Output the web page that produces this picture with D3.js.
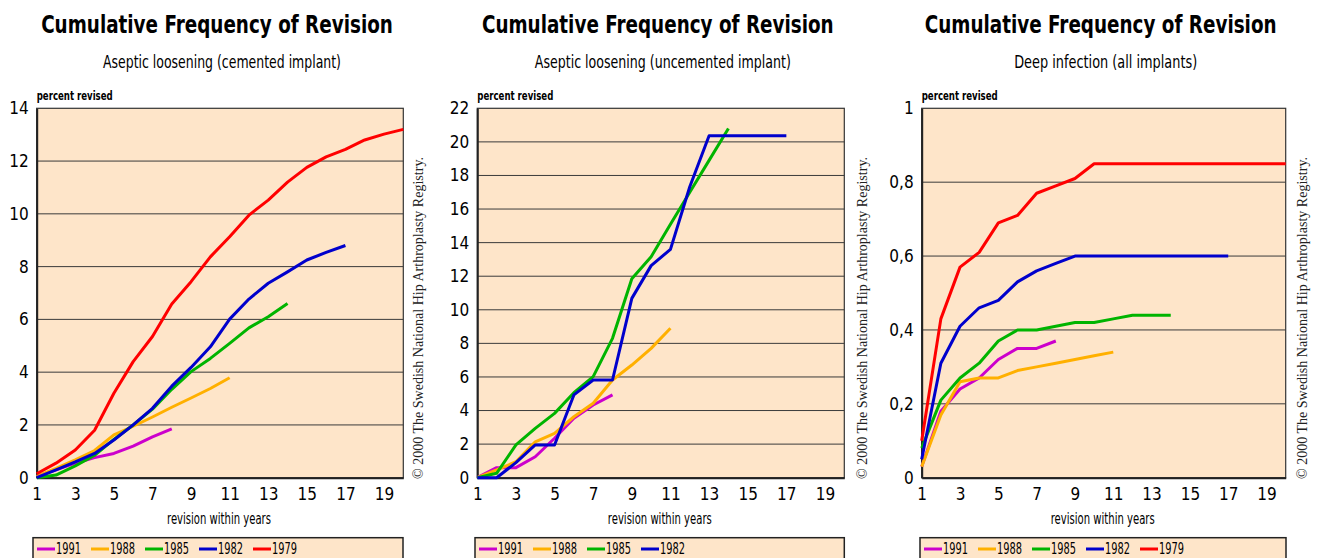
<!DOCTYPE html>
<html>
<head>
<meta charset="utf-8">
<script src="https://cdn.jsdelivr.net/npm/d3@7"></script>
<style>
  html, body { margin: 0; padding: 0; background: #ffffff; }
  svg { display: block; }
</style>
</head>
<body>
<svg id="chart" width="1322" height="558"></svg>
<script>
// ---------------- DATA ----------------
const years = [1, 2, 3, 4, 5, 6, 7, 8, 9, 10, 11, 12, 13, 14, 15, 16, 17, 18, 19, 20];
const xTickValues = [1, 3, 5, 7, 9, 11, 13, 15, 17, 19];
const seriesNames = ["1991", "1988", "1985", "1982", "1979"];

const chartTitle = "Cumulative Frequency of Revision";
const subtitles = ["Aseptic loosening (cemented implant)", "Aseptic loosening (uncemented implant)", "Deep infection (all implants)"];
const yAxisTitle = "percent revised";
const xAxisTitle = "revision within years";
const copyrightText = "\u00A9 2000 The Swedish National Hip Arthroplasty Registry.";

// Panel 1: aseptic loosening, cemented
const cemTicks = [0, 2, 4, 6, 8, 10, 12, 14];
const cem1991 = [0.05, 0.3, 0.55, 0.76, 0.92, 1.2, 1.55, 1.85];
const cem1988 = [0.05, 0.35, 0.68, 1.03, 1.62, 1.95, 2.3, 2.67, 3.02, 3.38, 3.79];
const cem1985 = [0, 0.1, 0.45, 0.85, 1.45, 2.0, 2.6, 3.35, 4.02, 4.52, 5.09, 5.68, 6.1, 6.6];
const cem1982 = [0, 0.3, 0.6, 0.92, 1.43, 2.0, 2.63, 3.47, 4.18, 4.96, 6.01, 6.77, 7.37, 7.8, 8.25, 8.54, 8.8];
const cem1979 = [0.15, 0.55, 1.05, 1.8, 3.2, 4.4, 5.35, 6.58, 7.43, 8.37, 9.13, 9.95, 10.52, 11.2, 11.76, 12.16, 12.44, 12.8, 13.02, 13.2];

// Panel 2: aseptic loosening, uncemented
const uncTicks = [0, 2, 4, 6, 8, 10, 12, 14, 16, 18, 20, 22];
const unc1991 = [0, 0.6, 0.6, 1.25, 2.35, 3.54, 4.33, 4.93];
const unc1988 = [0, 0.46, 0.95, 2.14, 2.64, 3.63, 4.43, 5.82, 6.71, 7.7, 8.9];
const unc1985 = [0, 0.26, 1.95, 2.94, 3.83, 5.06, 6.02, 8.3, 11.85, 13.16, 15.1, 17.0, 18.9, 20.8];
const unc1982 = [0, 0, 0.9, 1.95, 1.95, 4.93, 5.82, 5.82, 10.68, 12.63, 13.6, 17.33, 20.37, 20.37, 20.37, 20.37, 20.37];

// Panel 3: deep infection, all implants
const infTicks = [0, 0.2, 0.4, 0.6, 0.8, 1];
const infTickLabels = ["0", "0,2", "0,4", "0,6", "0,8", "1"];
const inf1991 = [0.03, 0.18, 0.24, 0.27, 0.32, 0.35, 0.35, 0.37];
const inf1988 = [0.03, 0.17, 0.26, 0.27, 0.27, 0.29, 0.30, 0.31, 0.32, 0.33, 0.34];
const inf1985 = [0.08, 0.21, 0.27, 0.31, 0.37, 0.40, 0.40, 0.41, 0.42, 0.42, 0.43, 0.44, 0.44, 0.44];
const inf1982 = [0.05, 0.31, 0.41, 0.46, 0.48, 0.53, 0.56, 0.58, 0.60, 0.60, 0.60, 0.60, 0.60, 0.60, 0.60, 0.60, 0.60];
const inf1979 = [0.10, 0.43, 0.57, 0.61, 0.69, 0.71, 0.77, 0.79, 0.81, 0.85, 0.85, 0.85, 0.85, 0.85, 0.85, 0.85, 0.85, 0.85, 0.85, 0.85];

// ---------------- STYLE ----------------
const colors = { "1991": "#cc00cc", "1988": "#ffb000", "1985": "#00b400", "1982": "#0000cc", "1979": "#ff0000" };
const bg = "#fee5c9";
const COND = '"Liberation Sans Narrow", "DejaVu Sans Condensed", "Roboto Condensed", sans-serif';
const SERIF = '"Liberation Serif", "DejaVu Serif", serif';

const panels = [
  { left: 36.7, right: 403.3, sub: subtitles[0], subW: 238, yMax: 14, ticks: cemTicks, labels: cemTicks.map(String),
    series: [["1991", cem1991], ["1988", cem1988], ["1985", cem1985], ["1982", cem1982], ["1979", cem1979]],
    copyX: 423, legL: 33, legR: 403 },
  { left: 477.3, right: 844.3, sub: subtitles[1], subW: 256, yMax: 22, ticks: uncTicks, labels: uncTicks.map(String),
    series: [["1991", unc1991], ["1988", unc1988], ["1985", unc1985], ["1982", unc1982]],
    copyX: 867, legL: 475, legR: 844.3 },
  { left: 921.7, right: 1285.7, sub: subtitles[2], subW: 183, yMax: 1, ticks: infTicks, labels: infTickLabels,
    series: [["1991", inf1991], ["1988", inf1988], ["1985", inf1985], ["1982", inf1982], ["1979", inf1979]],
    copyX: 1307, legL: 920, legR: 1286 }
];

const plotTop = 108.3, plotBottom = 477.7;
const titleW = 352, titleFs = 24;
const svg = d3.select("#chart");

panels.forEach((p) => {
  const g = svg.append("g");
  const x = d3.scaleLinear().domain([1, 20]).range([p.left, p.right]);
  const y = d3.scaleLinear().domain([0, p.yMax]).range([plotBottom, plotTop]);
  const cx = (p.left + p.right) / 2;

  // title: size chosen so its natural width is titleW, then stretched vertically
  const tg = g.append("g");
  const tt = tg.append("text").attr("x", 0).attr("y", 0).attr("text-anchor", "middle")
    .attr("font-family", COND).attr("font-weight", "bold").attr("font-size", titleFs)
    .attr("fill", "#000").text(chartTitle);
  const natural = tt.node().getComputedTextLength();
  const fs = titleFs * titleW / natural;
  tt.attr("font-size", fs);
  tg.attr("transform", `translate(${cx - 3},33) scale(1,${titleFs / fs})`);

  g.append("text").attr("x", cx + 2).attr("y", 68).attr("text-anchor", "middle")
    .attr("font-family", COND).attr("font-size", 17).attr("font-weight", 500)
    .attr("textLength", p.subW).attr("lengthAdjust", "spacingAndGlyphs").attr("fill", "#000")
    .text(p.sub);

  // plot background
  g.append("rect").attr("x", p.left).attr("y", plotTop).attr("width", p.right - p.left).attr("height", plotBottom - plotTop)
    .attr("fill", bg).attr("stroke", "#333").attr("stroke-width", 1.2);

  // grid lines
  g.append("g").selectAll("line").data(p.ticks.filter(t => t > 0 && t < p.yMax)).join("line")
    .attr("x1", p.left).attr("x2", p.right).attr("y1", d => y(d)).attr("y2", d => y(d))
    .attr("stroke", "#3a3a3a").attr("stroke-width", 1);

  // y axis
  const yAxis = d3.axisLeft(y).tickValues(p.ticks).tickSize(0).tickPadding(8)
    .tickFormat((d, i) => p.labels[i]);
  const ya = g.append("g").attr("transform", `translate(${p.left},0)`).call(yAxis);
  ya.select(".domain").attr("stroke", "#222").attr("stroke-width", 2);
  ya.selectAll("text").attr("font-family", COND).attr("font-size", 17).attr("fill", "#000");

  // x axis
  const xAxis = d3.axisBottom(x).tickValues(xTickValues).tickSize(0).tickPadding(10).tickFormat(d3.format("d"));
  const xa = g.append("g").attr("transform", `translate(0,${plotBottom})`).call(xAxis);
  xa.select(".domain").attr("stroke", "#222").attr("stroke-width", 2);
  xa.selectAll("text").attr("font-family", COND).attr("font-size", 17).attr("fill", "#000");

  // axis titles
  g.append("text").attr("x", p.left).attr("y", 100).attr("font-family", COND).attr("font-weight", "bold")
    .attr("font-size", 13).attr("textLength", 76).attr("lengthAdjust", "spacingAndGlyphs").text(yAxisTitle);
  g.append("text").attr("x", cx - 1).attr("y", 524).attr("text-anchor", "middle").attr("font-family", COND)
    .attr("font-size", 15).attr("textLength", 104).attr("lengthAdjust", "spacingAndGlyphs").text(xAxisTitle);

  // series lines
  const line = d3.line().x((d, i) => x(years[i])).y(d => y(d));
  g.append("g").selectAll("path").data(p.series).join("path")
    .attr("d", d => line(d[1])).attr("fill", "none")
    .attr("stroke", d => colors[d[0]]).attr("stroke-width", 3).attr("stroke-linejoin", "round");

  // copyright
  g.append("text").attr("transform", `translate(${p.copyX},479) rotate(-90)`)
    .attr("font-family", SERIF).attr("font-size", 14.5).attr("textLength", 322)
    .attr("lengthAdjust", "spacingAndGlyphs").attr("fill", "#222").text(copyrightText);

  // legend
  const lg = g.append("g");
  lg.append("rect").attr("x", p.legL).attr("y", 537.7).attr("width", p.legR - p.legL).attr("height", 40)
    .attr("fill", bg).attr("stroke", "#222").attr("stroke-width", 1.5);
  const items = lg.selectAll("g.item").data(p.series).join("g").attr("class", "item")
    .attr("transform", (d, i) => `translate(${p.legL + 4 + i * 54},0)`);
  items.append("line").attr("x1", 0).attr("x2", 18).attr("y1", 549).attr("y2", 549)
    .attr("stroke", d => colors[d[0]]).attr("stroke-width", 3);
  items.append("text").attr("x", 19).attr("y", 553.5).attr("font-family", COND).attr("font-size", 15)
    .attr("textLength", 25).attr("lengthAdjust", "spacingAndGlyphs").text(d => d[0]);
});
</script>
</body>
</html>
